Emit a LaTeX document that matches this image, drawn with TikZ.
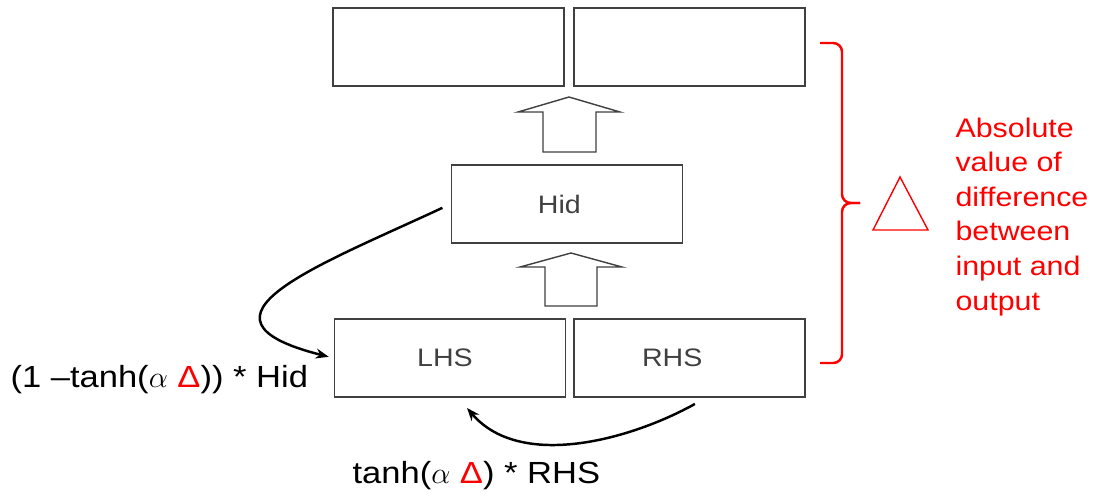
\documentclass[tikz,border=0pt]{standalone}
\usepackage{fontspec}
\setmainfont{Liberation Sans}[FakeStretch=1.13]
\usetikzlibrary{arrows.meta,positioning,calc}

\definecolor{boxgray}{RGB}{64,64,64}
\definecolor{deltared}{RGB}{255,0,0}

\begin{document}
\begin{tikzpicture}[
            x = 0.02cm, y = -0.02cm, % one unit is one pixel
            > = {Stealth[length=0.26cm,width=0.2cm]}, % arrow head style
            box/.style = {draw=boxgray, line width=1.1pt, minimum width=4.62cm,
                          minimum height=1.56cm, inner sep=0pt, text=boxgray,
                          font=\fontsize{14.4}{17}\selectfont},
            blockarr/.style = {draw=boxgray, line width=0.8pt, fill=white},
            curvearr/.style = {->, line width=1.4pt},
            formula/.style = {inner sep=0pt, anchor=base west,
                              font=\fontsize{17.4}{20}\selectfont},
            semithick % line style
        ]
	\useasboundingbox (0,0) rectangle (1104,498);

	\node[box] (outL) at (448.5,47) {};
	\node[box] (outR) [right=0.16cm of outL] {};
	\node[box] (Hid) at (567,204) {Hid\kern0.6em};
	\node[box] (LHS) at (450,358) {LHS\kern0.4em};
	\node[box] (RHS) [right=0.14cm of LHS] {RHS\kern1.4em};

	% block arrows
	\draw[blockarr] (543,152) -- (543,112) -- (518,112) -- (569,97) -- (620,112) -- (596,112) -- (596,152) -- cycle;
	\draw[blockarr] (545,306) -- (545,267) -- (520,267) -- (571,253) -- (622,267) -- (597,267) -- (597,306) -- cycle;

	% mixing arrows
	\draw[curvearr, shorten <=0.18cm, shorten >=0.1cm] (Hid.west) .. controls (320,265) and (175,318) .. (LHS.west);
	\draw[curvearr] ($(RHS.south)+(5,6)$) .. controls (630,440) and (520,470) .. ($(LHS.south)+(17,10)$);

	\node[formula] (mixHid) at (10,387) {(1 –tanh($\alpha$ {\color{deltared}Δ})) * Hid};
	\node[formula] (mixRHS) at (352,483) {tanh($\alpha$ {\color{deltared}Δ}) * RHS};

	% brace and delta
	\draw[deltared, line width=1.4pt, rounded corners=5pt] (820,43) -| (842,203) -- (860,203);
	\draw[deltared, line width=1.4pt, rounded corners=5pt] (860,203) -- (842,203) |- (820,363);
	\draw[deltared, line width=0.8pt] (873,230) -- (900,177) -- (928,230) -- cycle;

	\node[anchor=north west, inner sep=0pt, align=left, text=deltared,
	      font=\fontsize{15.3}{19.7}\selectfont] (note) at (955,117)
	      {Absolute\\value of\\difference\\between\\input and\\output};

\end{tikzpicture}
\end{document}
